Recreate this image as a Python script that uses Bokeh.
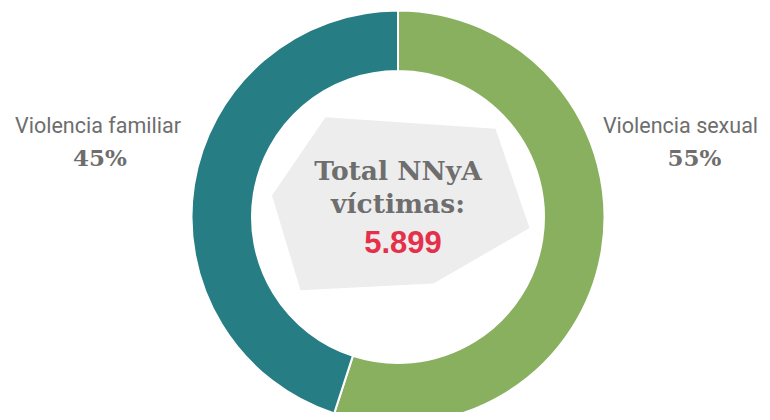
import numpy as np
from bokeh.plotting import figure
from bokeh.models import Range1d, ColumnDataSource
from bokeh.core.properties import value
from bokeh.embed import file_html
from bokeh.resources import INLINE

# ---- data ----
categories = ["Violencia sexual", "Violencia familiar"]
percentages = [55, 45]
colors = ["#89B05F", "#277D84"]
total_label = ["Total NNyA", "víctimas:"]
total_value = "5.899"

W, H = 762, 412
p = figure(width=W, height=H, output_backend="svg", toolbar_location=None,
           x_range=Range1d(0, W), y_range=Range1d(0, H), min_border=0)
p.axis.visible = False
p.grid.visible = False
p.outline_line_color = None
p.background_fill_color = "white"

def px(x):
    return x

def py(y):
    return H - y

cx, cy = px(397.5), py(216.5)

# wedges (clockwise from 12 o'clock)
frac = np.array(percentages, dtype=float) / sum(percentages)
ends = np.pi / 2 - 2 * np.pi * np.cumsum(frac)
starts = np.concatenate([[np.pi / 2], ends[:-1]])
src = ColumnDataSource(dict(start=starts, end=ends, color=colors, cat=categories))
p.annular_wedge(x=cx, y=cy, inner_radius=146, outer_radius=206.5,
                start_angle="start", end_angle="end", direction="clock",
                fill_color="color", line_color="white", line_width=2, source=src)

# decorative gray polygon in the center
poly_x = [325, 495, 529, 433, 300, 271.5]
poly_y = [116.7, 128.3, 227.5, 283, 289.7, 195]
p.patch([px(v) for v in poly_x], [py(v) for v in poly_y], fill_color="#EDEDED", line_color=None)

gray = "#6E6E6E"
p.text(x=[cx, cx], y=[py(169.5), py(202.5)], text=total_label, text_align="center",
       text_baseline="middle", text_font=value("DejaVu Serif"), text_font_style="bold",
       text_font_size="26.5px", text_color=gray)
p.text(x=[px(402.5)], y=[py(241)], text=[total_value], text_align="center",
       text_baseline="middle", text_font=value("Liberation Sans"), text_font_style="bold",
       text_font_size="31px", text_color="#E5304B")

# labels
lab_x = [px(680), px(97.5)]
pct_x = [px(694), px(99.5)]
p.text(x=lab_x, y=[py(124.5)] * 2, text=categories, text_align="center",
       text_baseline="middle", text_font=value("Roboto"),
       text_font_size="21.5px", text_color=gray)
p.text(x=pct_x, y=[py(157)] * 2, text=[f"{v}%" for v in percentages], text_align="center",
       text_baseline="middle", text_font=value("DejaVu Serif"), text_font_style="bold",
       text_font_size="23px", text_color=gray)

open("out.html", "w").write(file_html(p, INLINE))
